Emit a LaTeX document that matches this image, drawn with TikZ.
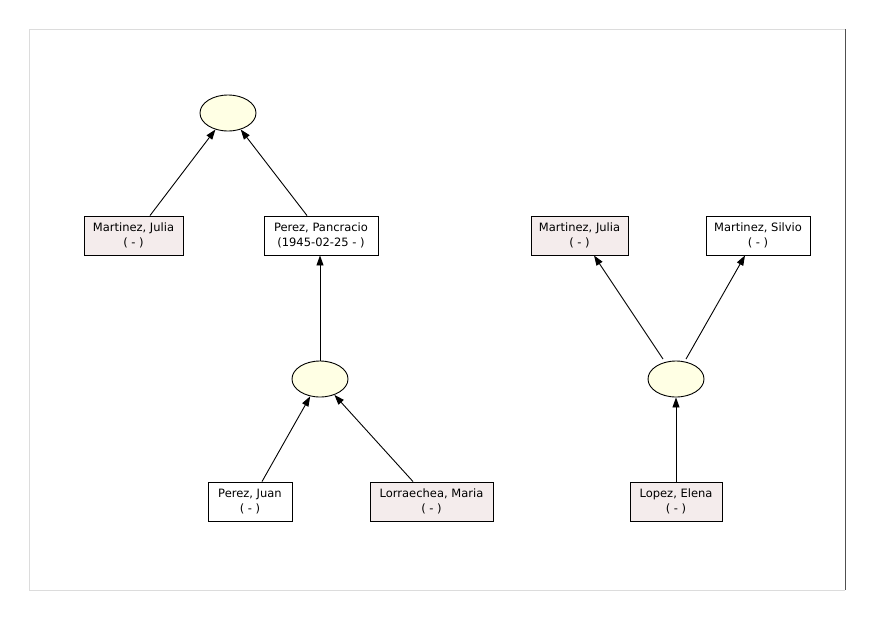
\documentclass[tikz,border=0pt]{standalone}
\usepackage{fontspec}
\setmainfont{DejaVu Sans}
\usetikzlibrary{arrows.meta,shapes.geometric}
\definecolor{famfill}{RGB}{255,255,228}
\definecolor{femfill}{RGB}{244,236,236}
\definecolor{framelight}{RGB}{220,220,220}
\definecolor{framedark}{RGB}{80,80,80}
\tikzset{
  person/.style={draw=black, line width=0.9pt, rectangle, minimum height=39pt, inner sep=0pt,
    align=center, font=\fontsize{11.5}{14.5}\selectfont, fill=white},
  female/.style={person, fill=femfill},
  family/.style={draw=black, line width=0.9pt, ellipse, fill=famfill, minimum width=56pt, minimum height=36pt, inner sep=0pt},
  arr/.style={draw=black, line width=0.9pt, -{Triangle[length=10pt,width=7pt]}}
}
\begin{document}
\begin{tikzpicture}[x=1pt,y=-1pt]
\useasboundingbox (0,0) rectangle (872,619);
\fill[white] (0,0) rectangle (872,619);
\draw[framelight, line width=0.8pt] (845,29) -- (29,29) -- (29,590) -- (845,590);
\draw[framedark, line width=1pt] (845,29) -- (845,590);

% left tree
\node[family] (e1) at (228,113) {};
\node[female, minimum width=99pt] (jl) at (133.5,235.5) {Martinez, Julia\\( - )};
\node[person, minimum width=114pt] (pp) at (321,235.5) {Perez, Pancracio\\(1945-02-25 - )};
\node[family] (e2) at (320,379) {};
\node[person, minimum width=84pt] (pj) at (250,501.5) {Perez, Juan\\( - )};
\node[female, minimum width=123pt] (lm) at (431.5,501.5) {Lorraechea, Maria\\( - )};

% right tree
\node[female, minimum width=97pt] (jr) at (579.5,235.5) {Martinez, Julia\\( - )};
\node[person, minimum width=104pt] (ms) at (758,235.5) {Martinez, Silvio\\( - )};
\node[family] (e3) at (676,379) {};
\node[female, minimum width=92pt] (le) at (676,501.5) {Lopez, Elena\\( - )};

% connectors
\draw[arr] ([xshift=16.5pt]jl.north) -- (e1);
\draw[arr] ([xshift=-14pt]pp.north) -- (e1);
\draw[arr] (e2.north) -- ([xshift=-1pt]pp.south);
\draw[arr] ([xshift=12pt]pj.north) -- (e2);
\draw[arr] ([xshift=-18.5pt]lm.north) -- (e2);
\coordinate (e3a) at ([shift={(-13pt,1.5pt)}]e3.north);
\coordinate (e3b) at ([shift={(10pt,1.5pt)}]e3.north);
\draw[arr] (e3a) -- ([xshift=14.5pt]jr.south);
\draw[arr] (e3b) -- ([xshift=-13pt]ms.south);
\draw[arr] (le.north) -- (e3.south);
\end{tikzpicture}
\end{document}
